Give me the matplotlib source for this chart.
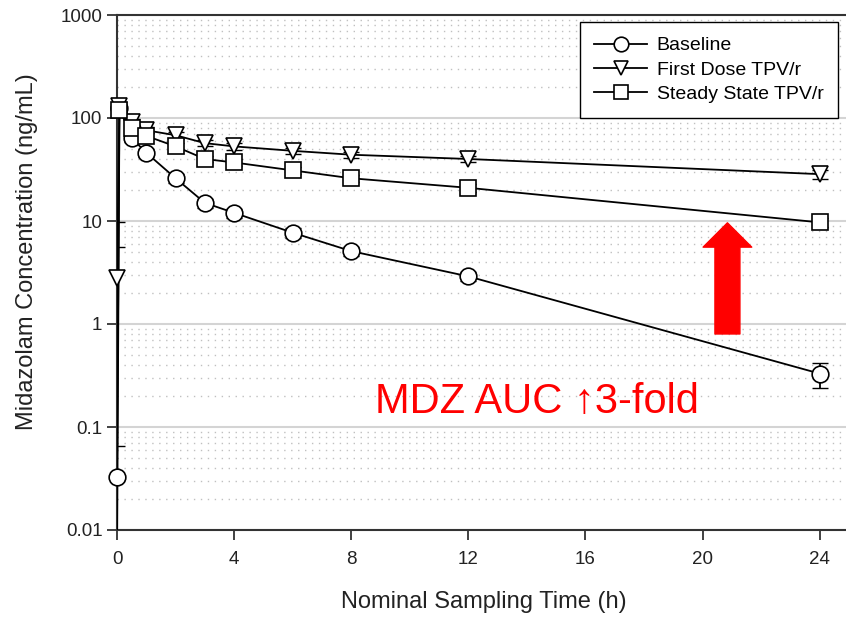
import matplotlib.pyplot as plt
from matplotlib.lines import Line2D
import numpy as np

# nominal sampling times (h)
time = [0, 0.083, 0.5, 1, 2, 3, 4, 6, 8, 12, 24]

baseline = [0.033, 125, 64, 46, 26, 15, 12, 7.7, 5.1, 2.9, 0.33]
baseline_sd = [0.032, 10, 5, 4, 2.5, 1.5, 1.2, 0.8, 0.5, 0.3, 0.09]

first_dose = [2.8, 130, 92, 76, 68, 57, 53, 48, 44, 40, 28.5]
first_dose_sd = [2.8, 12, 6, 5, 5, 4, 4, 3, 3, 3, 3]

steady_state = [0.005, 120, 80, 67, 53, 40, 37, 31, 26, 21, 9.7]
steady_state_sd = [9.7, 12, 6, 5, 4, 3, 3, 2.5, 2, 2, 1]

labels = ["Baseline", "First Dose TPV/r", "Steady State TPV/r"]
markers = ["o", "v", "s"]

x_ticks = [0, 4, 8, 12, 16, 20, 24]
y_ticks = [0.01, 0.1, 1, 10, 100, 1000]
y_ticklabels = ["0.01", "0.1", "1", "10", "100", "1000"]

plt.rcParams["font.family"] = ["Liberation Sans", "DejaVu Sans"]

fig = plt.figure(figsize=(8.46, 6.17), dpi=100)
ax = fig.add_axes([117 / 846, 1 - 530 / 617, 1 - 117 / 846, (530 - 15) / 617])

handles = []
for y, sd, m, lab in zip([baseline, first_dose, steady_state],
                         [baseline_sd, first_dose_sd, steady_state_sd],
                         markers, labels):
    y = np.array(y)
    sd = np.array(sd)
    lower = np.minimum(sd, y * 0.999)
    ax.errorbar(time, y, yerr=[lower, sd], color="black", fmt="-",
                linewidth=1.3, capsize=6, elinewidth=1.3, zorder=3)
    # markers drawn unclipped so the ones on the y axis stay whole
    vis = np.where(y >= 0.01, y, np.nan)
    ax.plot(time, vis, linestyle="none", marker=m, markersize=12,
            markerfacecolor="white", markeredgecolor="black",
            markeredgewidth=1.2, clip_on=False, zorder=4)
    handles.append(Line2D([], [], color="black", linewidth=1.3, marker=m,
                          markersize=10.5, markerfacecolor="white",
                          markeredgecolor="black", markeredgewidth=1.2,
                          label=lab))

ax.set_yscale("log")
ax.set_ylim(0.01, 1000)
ax.set_xlim(0, 24.9)
ax.set_xticks(x_ticks)
ax.set_yticks(y_ticks)
ax.set_yticklabels(y_ticklabels)
ax.yaxis.set_minor_locator(plt.LogLocator(base=10, subs=np.arange(2, 10)))
ax.yaxis.set_minor_formatter(plt.NullFormatter())
ax.tick_params(axis="y", which="minor", length=0)
ax.tick_params(axis="both", which="major", direction="out", length=7,
               width=1.3, color="#333333", labelsize=13.5, labelcolor="#222222")
ax.tick_params(axis="x", which="major", pad=8)

ax.grid(True, which="major", axis="y", color="#d4d4d4", linewidth=1.5)
ax.grid(True, which="minor", axis="y", color="#c0c0c0", linewidth=1.0,
        linestyle=(0, (1, 4)))
ax.set_axisbelow(True)

for s in ["left", "bottom", "top"]:
    ax.spines[s].set_color("#333333")
    ax.spines[s].set_linewidth(1.5)
ax.spines["right"].set_visible(False)

ax.set_xlabel("Nominal Sampling Time (h)", fontsize=17, color="#222222")
ax.set_ylabel("Midazolam Concentration (ng/mL)", fontsize=17, color="#222222")
ax.xaxis.set_label_coords(0.503, -0.118)
ax.yaxis.set_label_coords(-0.108, 0.54)

leg = ax.legend(handles=handles, loc="upper right", bbox_to_anchor=(0.989, 0.986),
                borderaxespad=0, fontsize=14, frameon=True, fancybox=False,
                handlelength=2.7, handletextpad=0.5, borderpad=0.75,
                labelspacing=0.35)
leg.get_frame().set_edgecolor("black")
leg.get_frame().set_linewidth(1.0)
leg.get_frame().set_alpha(1)

ax.annotate("", xy=(20.85, 9.6), xytext=(20.85, 0.8),
            arrowprops=dict(arrowstyle="simple,head_length=1.75,head_width=3.5,tail_width=1.8",
                            color="red", shrinkA=0, shrinkB=0, mutation_scale=10))

ax.text(14.33, 0.175, "MDZ AUC \u21913-fold", color="red", fontsize=30,
        ha="center", va="center")

fig.savefig("out.png", dpi=100)
